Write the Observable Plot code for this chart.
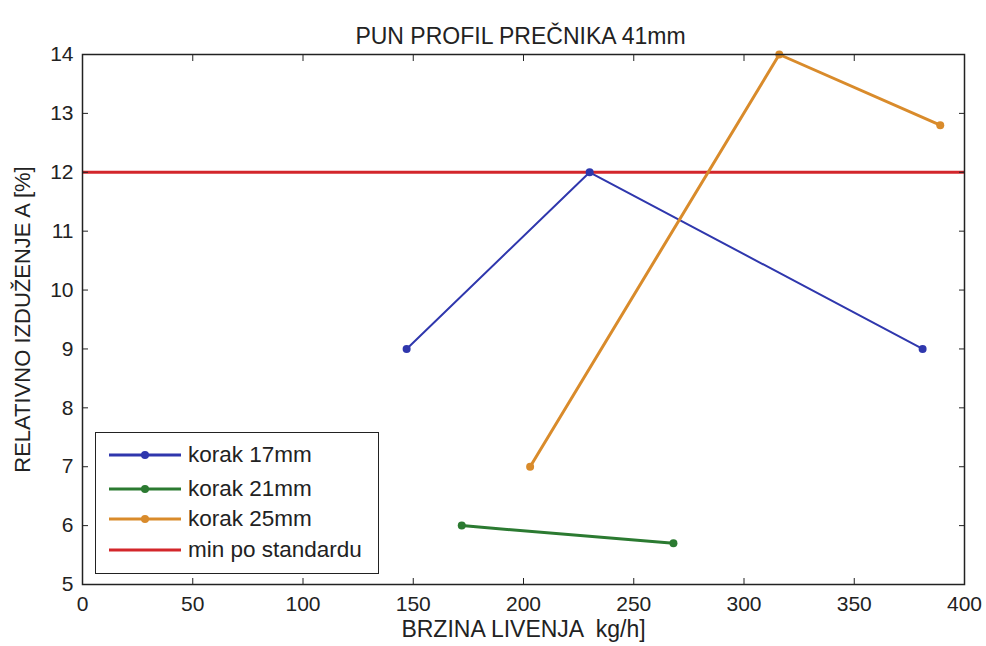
<!DOCTYPE html>
<html><head><meta charset="utf-8">
<script src="https://cdn.jsdelivr.net/npm/d3@7"></script>
<script src="https://cdn.jsdelivr.net/npm/@observablehq/plot@0.6"></script>
<style>
body{margin:0;background:#fff;font-family:"Liberation Sans",Arial,sans-serif;}
#wrap{position:relative;width:986px;height:646px;}
#legend{position:absolute;left:95px;top:432px;width:284px;height:142px;border:1.5px solid #222;background:#fff;box-sizing:border-box;}
#legend .row{position:absolute;left:12px;height:24px;display:flex;align-items:center;font-size:22.5px;color:#222;white-space:nowrap;}
#legend svg{margin-right:6px;}
</style></head>
<body><div id="wrap"></div>
<script>
const title = "PUN PROFIL PREČNIKA 41mm";
const xLabel = "BRZINA LIVENJA  kg/h]";
const yLabel = "RELATIVNO IZDUŽENJE A [%]";
const seriesNames = ["korak 17mm","korak 21mm","korak 25mm"];
const seriesColors = ["#2f37ad","#2b7a31","#d98b2b"];
const x17 = [147, 230, 381];  const y17 = [9, 12, 9];
const x21 = [172, 268];       const y21 = [6, 5.7];
const x25 = [203, 316, 389];  const y25 = [7, 14, 12.8];
const standardName = "min po standardu";
const standardValue = 12;
const standardColor = "#d3262b";
const xTicks = [0,50,100,150,200,250,300,350,400];
const yTicks = [5,6,7,8,9,10,11,12,13,14];

const data = [
  ...x17.map((x,i)=>({s:seriesNames[0],x,y:y17[i]})),
  ...x21.map((x,i)=>({s:seriesNames[1],x,y:y21[i]})),
  ...x25.map((x,i)=>({s:seriesNames[2],x,y:y25[i]}))
];
const widths = {[seriesNames[0]]:2,[seriesNames[1]]:3,[seriesNames[2]]:3};
const fmt = d3.format("d");

const chart = Plot.plot({
  width: 986, height: 646,
  marginLeft: 82, marginRight: 22, marginTop: 54, marginBottom: 62,
  style: {fontFamily: '"Liberation Sans", Arial, sans-serif', fontSize: "21px", color: "#222", background: "#fff"},
  x: {domain: [0,400], label: null},
  y: {domain: [5,14], label: null},
  color: {domain: seriesNames, range: seriesColors},
  marks: [
    Plot.ruleY([standardValue], {stroke: standardColor, strokeWidth: 3}),
    ...seriesNames.map(n => Plot.line(data.filter(d=>d.s===n), {x:"x", y:"y", stroke: "s", strokeWidth: widths[n]})),
    Plot.dot(data, {x:"x", y:"y", fill:"s", r:4}),
    Plot.frame({stroke:"#222", strokeWidth:1.5}),
    Plot.axisX(xTicks, {anchor:"bottom", tickSize:-6, text:null, label:null, stroke:"#222"}),
    Plot.axisX(xTicks, {anchor:"top", tickSize:-6, text:null, label:null, stroke:"#222"}),
    Plot.axisY(yTicks, {anchor:"left", tickSize:-6, text:null, label:null, stroke:"#222"}),
    Plot.axisY(yTicks, {anchor:"right", tickSize:-6, text:null, label:null, stroke:"#222"}),
    Plot.axisX(xTicks, {anchor:"bottom", tickSize:0, tickPadding:12, label:null, tickFormat:fmt, fontSize:21}),
    Plot.axisY(yTicks, {anchor:"left", tickSize:0, tickPadding:9, label:null, tickFormat:fmt, fontSize:21}),
    Plot.text([title], {frameAnchor:"top", dy:-27, dx:-3, fontSize:23}),
    Plot.text([xLabel], {frameAnchor:"bottom", dy:52, fontSize:23}),
    Plot.text([yLabel], {frameAnchor:"left", dx:-60, textAnchor:"middle", rotate:-90, fontSize:22})
  ]
});
const wrap = document.getElementById("wrap");
wrap.appendChild(chart);

const leg = document.createElement("div");
leg.id = "legend";
const entries = seriesNames.map((n,i)=>({n,c:seriesColors[i],dot:true})).concat([{n:standardName,c:standardColor,dot:false}]);
const tops = [10, 44, 74, 105];
entries.forEach((e,i)=>{
  const row = document.createElement("div");
  row.className = "row";
  row.style.top = tops[i] + "px";
  row.innerHTML = `<svg width="74" height="12"><line x1="1" x2="73" y1="6" y2="6" stroke="${e.c}" stroke-width="3"/>${e.dot?`<circle cx="37" cy="6" r="4" fill="${e.c}"/>`:""}</svg><span>${e.n}</span>`;
  leg.appendChild(row);
});
wrap.appendChild(leg);
</script></body></html>
